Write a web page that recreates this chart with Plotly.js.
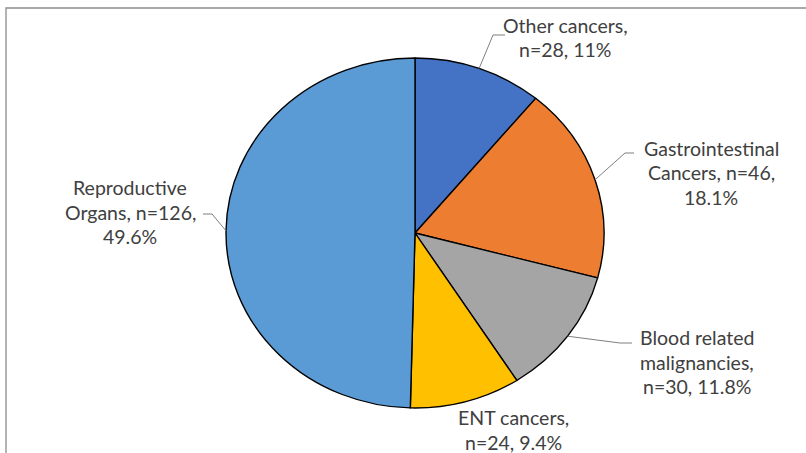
<!DOCTYPE html>
<html>
<head>
<meta charset="utf-8">
<script src="https://cdn.plot.ly/plotly-3.0.1.min.js"></script>
<style>html,body{margin:0;padding:0;background:#fff;}#chart{width:806px;height:453px;}</style>
</head>
<body>
<div id="chart"></div>
<script>
// ---- data ----
var categories = ["Other cancers", "Gastrointestinal Cancers", "Blood related malignancies", "ENT cancers", "Reproductive Organs"];
var counts = [28, 46, 30, 24, 126];
var percents = ["11%", "18.1%", "11.8%", "9.4%", "49.6%"];
var labelLines = [
  ["Other cancers,", "n=28, 11%"],
  ["Gastrointestinal", "Cancers, n=46,", "18.1%"],
  ["Blood related", "malignancies,", "n=30, 11.8%"],
  ["ENT cancers,", "n=24, 9.4%"],
  ["Reproductive", "Organs, n=126,", "49.6%"]
];
var colors = ["#4472C4", "#ED7D31", "#A5A5A5", "#FFC000", "#5B9BD5"];

// ---- layout (pixel frame) ----
var W = 806, H = 453;
var cx = 415, cy = 233, R = 175, stretch = 1.08;
var lineGap = 24.5;
// label block centres and leader elbows (layout only)
var labelPos = [
  {x: 565, y: 37.5, elbow: [[493, 35], [505, 35]]},
  {x: 711, y: 172.5, elbow: [[625, 153], [634, 153]]},
  {x: 697, y: 362, elbow: [[620, 343], [632, 343]]},
  {x: 513, y: 430, elbow: null},
  {x: 130, y: 212, elbow: [[212, 214], [203, 214]]}
];
var textColor = "#404040";
var fontFam = "Lato, 'Open Sans', sans-serif";
var fontSize = 19.5;

var total = counts.reduce(function(a, b){ return a + b; }, 0);

var trace = {
  type: 'pie',
  values: counts,
  labels: categories,
  sort: false,
  direction: 'clockwise',
  rotation: 0,
  textinfo: 'none',
  hoverinfo: 'none',
  marker: {colors: colors, line: {color: '#000000', width: 1.3}},
  domain: {x: [(cx - R) / W, (cx + R) / W], y: [(H - cy - R) / H, (H - cy + R) / H]},
  showlegend: false
};

var shapes = [{
  type: 'rect', xref: 'x', yref: 'y', x0: 6, y0: 8, x1: 812, y1: 460,
  line: {color: '#8c8c8c', width: 1.3}, fillcolor: 'rgba(0,0,0,0)', layer: 'below'
}];
var annotations = [];
var cum = 0;
for (var i = 0; i < counts.length; i++) {
  var mid = (cum + counts[i] / 2) / total * 2 * Math.PI;
  cum += counts[i];
  var ex = cx + R * stretch * Math.sin(mid);
  var ey = cy - R * Math.cos(mid);
  var lp = labelPos[i];
  if (lp.elbow) {
    var path = 'M' + ex + ',' + ey + ' L' + lp.elbow[0][0] + ',' + lp.elbow[0][1] + ' L' + lp.elbow[1][0] + ',' + lp.elbow[1][1];
    shapes.push({type: 'path', xref: 'x', yref: 'y', path: path, line: {color: '#7f7f7f', width: 1}});
  }
  var n = labelLines[i].length;
  for (var k = 0; k < n; k++) {
    annotations.push({
      xref: 'x', yref: 'y', x: lp.x, y: lp.y + (k - (n - 1) / 2) * lineGap, text: labelLines[i][k],
      showarrow: false, align: 'center', xanchor: 'center', yanchor: 'middle',
      font: {family: fontFam, size: fontSize, color: textColor}
    });
  }
}

var layout = {
  width: W, height: H,
  margin: {l: 0, r: 0, t: 0, b: 0},
  paper_bgcolor: '#ffffff', plot_bgcolor: 'rgba(0,0,0,0)',
  xaxis: {range: [0, W], visible: false, fixedrange: true},
  yaxis: {range: [H, 0], visible: false, fixedrange: true},
  shapes: shapes,
  annotations: annotations,
  showlegend: false
};

Plotly.newPlot('chart', [trace], layout, {displayModeBar: false, staticPlot: true}).then(function(gd){
  var pl = gd.querySelector('.pielayer');
  if (pl) {
    pl.setAttribute('transform', 'translate(' + cx + ',0) scale(' + stretch + ',1) translate(' + (-cx) + ',0)');
  }
});
</script>
</body>
</html>
